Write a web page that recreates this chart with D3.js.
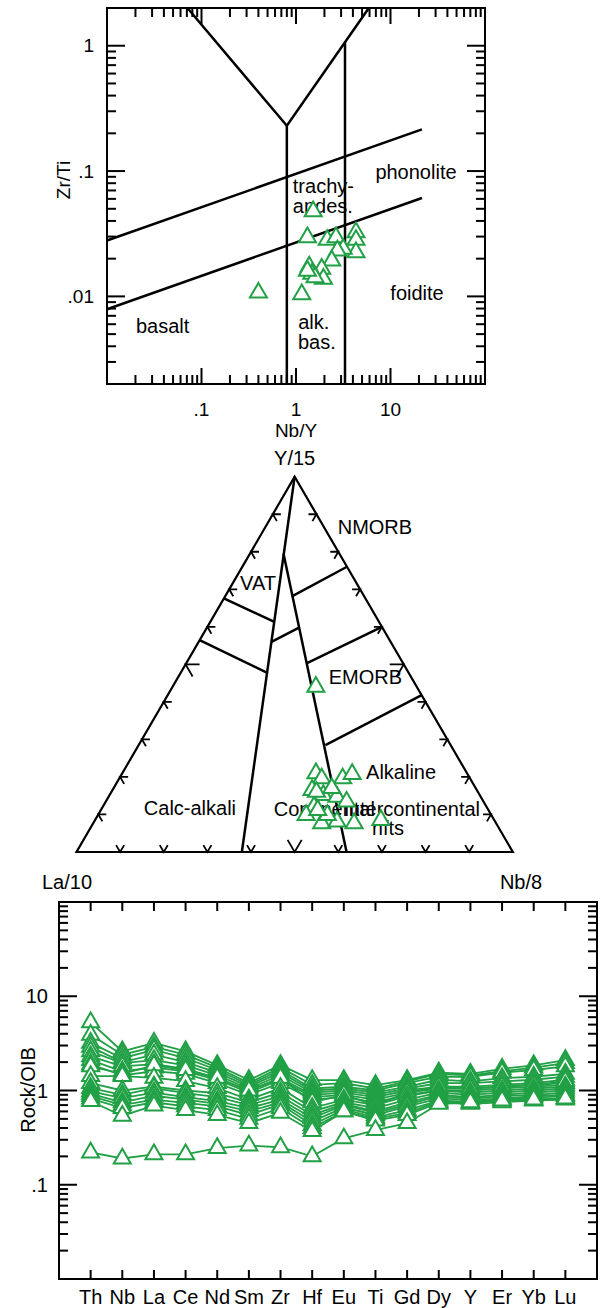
<!DOCTYPE html>
<html>
<head>
<meta charset="utf-8">
<script src="https://cdn.jsdelivr.net/npm/d3@7"></script>
<style>
body{margin:0;background:#fff;}
svg{display:block;font-family:"Liberation Sans",Arial,Helvetica,sans-serif;}
</style>
</head>
<body>
<svg id="chart" width="600" height="1308"></svg>
<script>

// ---- panel 1 : Nb/Y vs Zr/Ti (Pearce 1996) ----
var nbY  = [0.40, 1.15, 1.52, 1.32, 2.14, 2.65, 4.31, 4.31, 4.31, 3.16, 2.74, 2.39, 1.87, 1.38, 1.47, 1.95, 1.59, 1.32];
var zrTi = [0.0107, 0.0104, 0.0478, 0.0296, 0.0282, 0.0296, 0.0324, 0.0282, 0.0225, 0.0239, 0.0232, 0.0193, 0.0166, 0.0173, 0.0151, 0.0138, 0.0142, 0.016];
var xTickLabels1 = [0.1, 1, 10];
var yTickLabels1 = [0.01, 0.1, 1];
// field boundaries, [Nb/Y, Zr/Ti]
var fields1 = [
  [[0.071, 2], [0.8, 0.23], [5.9, 2]],
  [[0.8, 0.23], [0.8, 0.002]],
  [[3.3, 1.07], [3.3, 0.002]],
  [[0.01, 0.0279], [21.5, 0.215]],
  [[0.01, 0.0079], [21.5, 0.061]]
];
var fieldNames1 = [
  {t:"phonolite", x:18.6, y:0.0975, a:"middle"},
  {t:"trachy-", x:0.925, y:0.0767, a:"start"},
  {t:"andes.", x:0.925, y:0.0531, a:"start"},
  {t:"foidite", x:19.1, y:0.0107, a:"middle"},
  {t:"basalt", x:0.0388, y:0.00582, a:"middle"},
  {t:"alk.", x:1.54, y:0.0063, a:"middle"},
  {t:"bas.", x:1.66, y:0.00435, a:"middle"}
];

// ---- panel 2 : La/10 - Y/15 - Nb/8 ternary (Cabanis & Lecolle 1989) ----
var triLa = [0.231, 0.3465, 0.34, 0.292, 0.264, 0.377, 0.358, 0.33, 0.314, 0.395, 0.4245, 0.40, 0.363, 0.3255, 0.26, 0.376, 0.392, 0.37, 0.33];
var triNb = [0.3286, 0.444, 0.464, 0.512, 0.528, 0.4574, 0.490, 0.523, 0.552, 0.484, 0.477, 0.5237, 0.5567, 0.598, 0.655, 0.5257, 0.497, 0.47, 0.50];
var triY  = [0.440, 0.2095, 0.196, 0.196, 0.2077, 0.165, 0.1518, 0.1472, 0.134, 0.1206, 0.0985, 0.0764, 0.0807, 0.0764, 0.0852, 0.0985, 0.1118, 0.16, 0.17];
// boundaries as [La, Nb, Y] end points
var fields2 = [
  [[0, 0, 1], [0.621, 0.379, 0]],
  [[0.128, 0.077, 0.795], [0.381, 0.619, 0]],
  [[0.3245, 0, 0.6755], [0.24, 0.147, 0.613]],
  [[0.4356, 0, 0.5644], [0.324, 0.1985, 0.4774]],
  [[0.273, 0.167, 0.56], [0.191, 0.211, 0.598]],
  [[0.164, 0.1537, 0.682], [0, 0.24, 0.76]],
  [[0.2216, 0.276, 0.5024], [0, 0.40, 0.60]],
  [[0.287, 0.428, 0.285], [0, 0.582, 0.418]]
];
// label anchors: u = Nb + Y/2 across, v = Y up
var fieldNames2 = [
  {t:"NMORB", u:0.684, v:0.867, a:"middle"},
  {t:"VAT", u:0.416, v:0.716, a:"middle"},
  {t:"EMORB", u:0.662, v:0.467, a:"middle"},
  {t:"Alkaline", u:0.744, v:0.214, a:"middle"},
  {t:"Calc-alkali", u:0.26, v:0.1165, a:"middle"},
  {t:"Continental", u:0.452, v:0.114, a:"start"},
  {t:"intercontinental", u:0.925, v:0.114, a:"end"},
  {t:"rifts", u:0.714, v:0.063, a:"middle"}
];

// ---- panel 3 : OIB normalised spider diagram ----
var elements = ["Th","Nb","La","Ce","Nd","Sm","Zr","Hf","Eu","Ti","Gd","Dy","Y","Er","Yb","Lu"];
var rockOib = [
  [5.3, 2.6, 3.2, 2.6, 1.86, 1.29, 1.86, 1.29, 1.29, 1.14, 1.29, 1.55, 1.5, 1.7, 1.85, 2.1],
  [3.9, 2.4, 2.9, 2.4, 1.75, 1.2, 1.75, 1.15, 1.2, 1.05, 1.25, 1.5, 1.45, 1.6, 1.75, 1.95],
  [3.2, 2.2, 2.7, 2.2, 1.65, 1.15, 1.65, 1.05, 1.1, 1.0, 1.2, 1.4, 1.4, 1.55, 1.65, 1.8],
  [2.9, 2.0, 2.4, 2.0, 1.55, 1.1, 1.55, 1.0, 1.05, 0.95, 1.1, 1.3, 1.25, 1.35, 1.4, 1.5],
  [2.6, 1.95, 2.1, 1.85, 1.45, 1.05, 1.45, 0.95, 1.0, 0.9, 1.05, 1.2, 1.2, 1.25, 1.3, 1.4],
  [2.3, 1.8, 1.9, 1.7, 1.35, 1.0, 1.35, 0.9, 0.95, 0.85, 1.0, 1.1, 1.1, 1.15, 1.2, 1.3],
  [2.1, 1.6, 1.75, 1.6, 1.3, 0.95, 1.3, 0.85, 0.9, 0.8, 0.95, 1.05, 1.05, 1.1, 1.15, 1.2],
  [1.9, 1.45, 1.6, 1.5, 1.2, 0.9, 1.2, 0.8, 0.85, 0.75, 0.9, 1.0, 1.0, 1.05, 1.1, 1.15],
  [1.8, 1.5, 1.85, 1.65, 1.36, 1.0, 1.36, 0.75, 0.9, 0.7, 0.95, 1.1, 1.05, 1.1, 1.15, 1.25],
  [1.42, 1.42, 1.36, 1.26, 1.06, 0.8, 1.06, 0.65, 0.8, 0.7, 0.87, 1.0, 0.95, 1.0, 1.05, 1.1],
  [1.2, 1.0, 1.1, 1.0, 0.94, 0.75, 0.95, 0.6, 0.75, 0.65, 0.8, 0.95, 0.9, 0.95, 1.0, 1.05],
  [1.06, 0.9, 1.06, 0.94, 0.85, 0.7, 0.87, 0.55, 0.72, 0.6, 0.75, 0.9, 0.85, 0.9, 0.95, 1.0],
  [0.98, 0.83, 0.95, 0.85, 0.77, 0.65, 0.8, 0.51, 0.7, 0.58, 0.71, 0.87, 0.82, 0.87, 0.9, 0.95],
  [0.92, 0.75, 0.88, 0.8, 0.72, 0.6, 0.75, 0.47, 0.66, 0.55, 0.68, 0.82, 0.8, 0.82, 0.87, 0.9],
  [0.87, 0.7, 0.8, 0.74, 0.68, 0.55, 0.71, 0.43, 0.63, 0.52, 0.62, 0.78, 0.76, 0.8, 0.84, 0.87],
  [0.82, 0.65, 0.75, 0.68, 0.62, 0.5, 0.65, 0.4, 0.6, 0.5, 0.58, 0.76, 0.74, 0.78, 0.8, 0.83],
  [0.77, 0.54, 0.69, 0.62, 0.55, 0.45, 0.58, 0.37, 0.6, 0.48, 0.55, 0.74, 0.72, 0.75, 0.78, 0.8],
  [0.22, 0.19, 0.21, 0.21, 0.245, 0.26, 0.25, 0.2, 0.31, 0.38, 0.45, 0.72, 0.75, 0.78, 0.8, 0.82]
];
var yTickLabels3 = [0.1, 1, 10];

var green = "#21a045";
var svg = d3.select("#chart");
svg.append("rect").attr("width",600).attr("height",1308).attr("fill","#fff");

var tri = d3.symbol().type(d3.symbolTriangle).size(125);

function fmt(v){ return v < 1 ? String(v).replace(/^0/, "") : String(v); }
function isDecade(v){ var l = Math.log10(v); return Math.abs(l - Math.round(l)) < 1e-6; }

function logTicks(g, scale, side, x0, y0, majLen, minLen){
  // side: bottom/top use x ticks, left/right use y ticks
  var t = scale.ticks();
  g.selectAll(null).data(t).enter().append("line")
    .attr("stroke","#000").attr("stroke-width",2)
    .each(function(v){
      var len = isDecade(v) ? majLen : minLen;
      var p = scale(v), s = d3.select(this);
      if(side==="bottom") s.attr("x1",p).attr("x2",p).attr("y1",y0).attr("y2",y0-len);
      if(side==="top")    s.attr("x1",p).attr("x2",p).attr("y1",y0).attr("y2",y0+len);
      if(side==="left")   s.attr("y1",p).attr("y2",p).attr("x1",x0).attr("x2",x0+len);
      if(side==="right")  s.attr("y1",p).attr("y2",p).attr("x1",x0).attr("x2",x0-len);
    });
}

// ================= panel 1 =================
var x1 = d3.scaleLog().domain([0.01,100]).range([107,485]);
var y1 = d3.scaleLog().domain([0.002,2]).range([384,8]);
var p1 = svg.append("g");

var line1 = d3.line().x(function(d){return x1(d[0]);}).y(function(d){return y1(d[1]);});
p1.selectAll(".fld").data(fields1).enter().append("path")
  .attr("d",line1).attr("fill","none").attr("stroke","#000").attr("stroke-width",2.5);

p1.append("rect").attr("x",107).attr("y",8).attr("width",378).attr("height",376)
  .attr("fill","none").attr("stroke","#000").attr("stroke-width",2);
logTicks(p1, x1, "bottom", 0, 384, 16, 9);
logTicks(p1, x1, "top", 0, 8, 16, 9);
logTicks(p1, y1, "left", 107, 0, 18, 9);
logTicks(p1, y1, "right", 485, 0, 18, 9);

p1.selectAll(".xl").data(xTickLabels1).enter().append("text")
  .attr("x",function(d){return x1(d);}).attr("y",416)
  .attr("text-anchor","middle").attr("font-size",19).text(fmt);
p1.selectAll(".yl").data(yTickLabels1).enter().append("text")
  .attr("x",94).attr("y",function(d){return y1(d);}).attr("dy","0.35em")
  .attr("text-anchor","end").attr("font-size",19).text(fmt);
p1.append("text").attr("x",296).attr("y",437).attr("text-anchor","middle")
  .attr("font-size",19).text("Nb/Y");
p1.append("text").attr("transform","translate(70,180) rotate(-90)")
  .attr("text-anchor","middle").attr("font-size",19).text("Zr/Ti");

p1.selectAll(".fn").data(fieldNames1).enter().append("text")
  .attr("x",function(d){return x1(d.x);}).attr("y",function(d){return y1(d.y);})
  .attr("dy","0.35em").attr("text-anchor",function(d){return d.a;})
  .attr("font-size",20).text(function(d){return d.t;});

p1.selectAll(".pt").data(nbY).enter().append("path")
  .attr("d",tri)
  .attr("transform",function(d,i){return "translate("+x1(d)+","+y1(zrTi[i])+")";})
  .attr("fill","#fff").attr("stroke",green).attr("stroke-width",2);

// ================= panel 2 =================
var tx = d3.scaleLinear().domain([0,1]).range([76.5,512.8]);
var ty = d3.scaleLinear().domain([0,1]).range([852,476.7]);
function proj(la, nb, y){ return [tx(nb + y/2), ty(y)]; }
var p2 = svg.append("g");

var A = proj(1,0,0), B = proj(0,1,0), C = proj(0,0,1);
p2.append("path").attr("d","M"+A+"L"+B+"L"+C+"Z")
  .attr("fill","none").attr("stroke","#000").attr("stroke-width",2.2);

p2.selectAll(".fld").data(fields2).enter().append("path")
  .attr("d",function(d){return "M"+proj.apply(null,d[0])+"L"+proj.apply(null,d[1]);})
  .attr("fill","none").attr("stroke","#000").attr("stroke-width",2.5);

// chevron ticks at tenths along each edge, vertex on edge, arms along the other edges
var tenths = d3.range(1,10).map(function(k){return k/10;});
var edges = [
  {from:A, to:B, a1:[C[0]-B[0],C[1]-B[1]], a2:[C[0]-A[0],C[1]-A[1]]},
  {from:A, to:C, a1:[B[0]-A[0],B[1]-A[1]], a2:[B[0]-C[0],B[1]-C[1]]},
  {from:B, to:C, a1:[A[0]-B[0],A[1]-B[1]], a2:[A[0]-C[0],A[1]-C[1]]}
];
edges.forEach(function(e){
  function unit(v){var l=Math.hypot(v[0],v[1]);return [v[0]/l,v[1]/l];}
  var u1 = unit(e.a1), u2 = unit(e.a2);
  p2.selectAll(null).data(tenths).enter().append("path")
    .attr("d",function(f){
      var px = e.from[0]+(e.to[0]-e.from[0])*f, py = e.from[1]+(e.to[1]-e.from[1])*f;
      var L = Math.abs(f-0.5)<1e-6 ? 14 : 8;
      return "M"+(px+u1[0]*L)+","+(py+u1[1]*L)+"L"+px+","+py+"L"+(px+u2[0]*L)+","+(py+u2[1]*L);
    })
    .attr("fill","none").attr("stroke","#000").attr("stroke-width",1.8);
});

p2.selectAll(".fn").data(fieldNames2).enter().append("text")
  .attr("x",function(d){return tx(d.u);}).attr("y",function(d){return ty(d.v);})
  .attr("dy","0.35em").attr("text-anchor",function(d){return d.a;})
  .attr("font-size",20).text(function(d){return d.t;});

p2.append("text").attr("x",C[0]).attr("y",465).attr("text-anchor","middle").attr("font-size",20).text("Y/15");
p2.append("text").attr("x",67).attr("y",889).attr("text-anchor","middle").attr("font-size",20).text("La/10");
p2.append("text").attr("x",521).attr("y",889).attr("text-anchor","middle").attr("font-size",20).text("Nb/8");

p2.selectAll(".pt").data(triLa).enter().append("path")
  .attr("d",tri)
  .attr("transform",function(d,i){var p = proj(d, triNb[i], triY[i]); return "translate("+p[0]+","+p[1]+")";})
  .attr("fill","#fff").attr("stroke",green).attr("stroke-width",2);

// ================= panel 3 =================
var x3 = d3.scalePoint().domain(elements).range([59,597]).padding(1);
var y3 = d3.scaleLog().domain([0.01,100]).range([1279,902]);
var p3 = svg.append("g");

p3.append("rect").attr("x",59).attr("y",902).attr("width",538).attr("height",377)
  .attr("fill","none").attr("stroke","#000").attr("stroke-width",2);
p3.selectAll(".xt").data(elements).enter().append("line")
  .attr("x1",function(d){return x3(d);}).attr("x2",function(d){return x3(d);})
  .attr("y1",1279).attr("y2",1270).attr("stroke","#000").attr("stroke-width",2);
p3.selectAll(".xtt").data(elements).enter().append("line")
  .attr("x1",function(d){return x3(d);}).attr("x2",function(d){return x3(d);})
  .attr("y1",902).attr("y2",911).attr("stroke","#000").attr("stroke-width",2);
logTicks(p3, y3, "left", 59, 0, 18, 9);
logTicks(p3, y3, "right", 597, 0, 18, 9);

p3.selectAll(".xl").data(elements).enter().append("text")
  .attr("x",function(d){return x3(d);}).attr("y",1304)
  .attr("text-anchor","middle").attr("font-size",20).text(function(d){return d;});
p3.selectAll(".yl").data(yTickLabels3).enter().append("text")
  .attr("x",48).attr("y",function(d){return y3(d);}).attr("dy","0.35em")
  .attr("text-anchor","end").attr("font-size",20).text(fmt);
p3.append("text").attr("transform","translate(35,1090) rotate(-90)")
  .attr("text-anchor","middle").attr("font-size",20).text("Rock/OIB");

var line3 = d3.line().x(function(d,i){return x3(elements[i]);}).y(function(d){return y3(d);});
p3.selectAll(".ln").data(rockOib).enter().append("path")
  .attr("d",line3).attr("fill","none").attr("stroke",green).attr("stroke-width",1.8);
rockOib.forEach(function(row){
  p3.selectAll(null).data(row).enter().append("path")
    .attr("d",tri)
    .attr("transform",function(d,i){return "translate("+x3(elements[i])+","+y3(d)+")";})
    .attr("fill","#fff").attr("stroke",green).attr("stroke-width",2);
});
</script>
</body>
</html>
